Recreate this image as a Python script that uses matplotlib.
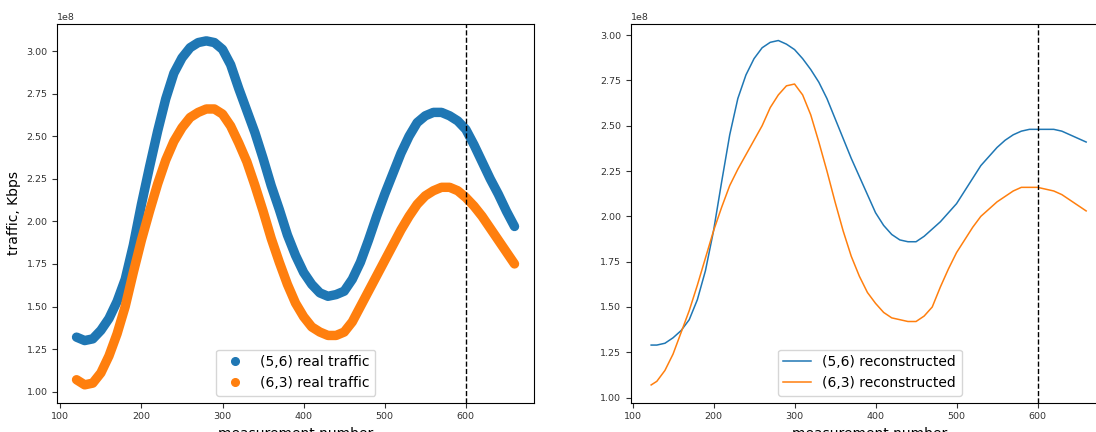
import numpy as np
import matplotlib
matplotlib.use("Agg")
import matplotlib.pyplot as plt
from matplotlib.lines import Line2D

# measurement numbers
x_real = np.arange(120, 670, 10)
x_rec = np.array([123] + list(range(130, 670, 10)))

# traffic, in units of 1e8 Kbps
blue_real = [1.32, 1.30, 1.31, 1.36, 1.43, 1.53, 1.66, 1.86, 2.10, 2.32,
             2.53, 2.72, 2.87, 2.96, 3.02, 3.05, 3.06, 3.05, 3.01, 2.92,
             2.78, 2.65, 2.52, 2.37, 2.21, 2.07, 1.92, 1.80, 1.70, 1.63,
             1.58, 1.56, 1.57, 1.59, 1.66, 1.76, 1.89, 2.03, 2.16, 2.28,
             2.40, 2.50, 2.58, 2.62, 2.64, 2.64, 2.62, 2.59, 2.54, 2.45,
             2.35, 2.25, 2.16, 2.06, 1.97]
orange_real = [1.07, 1.04, 1.05, 1.11, 1.21, 1.34, 1.50, 1.70, 1.89, 2.06,
               2.22, 2.36, 2.47, 2.55, 2.61, 2.64, 2.66, 2.66, 2.63, 2.56,
               2.46, 2.35, 2.21, 2.06, 1.90, 1.76, 1.63, 1.52, 1.44, 1.38,
               1.35, 1.33, 1.33, 1.35, 1.41, 1.50, 1.59, 1.68, 1.77, 1.86,
               1.95, 2.03, 2.10, 2.15, 2.18, 2.20, 2.20, 2.18, 2.14, 2.09,
               2.03, 1.96, 1.89, 1.82, 1.75]
blue_rec = [1.29, 1.29, 1.30, 1.33, 1.37, 1.43, 1.54, 1.70, 1.92, 2.19,
            2.45, 2.65, 2.78, 2.87, 2.93, 2.96, 2.97, 2.95, 2.92, 2.87,
            2.81, 2.74, 2.65, 2.54, 2.43, 2.32, 2.22, 2.12, 2.02, 1.95,
            1.90, 1.87, 1.86, 1.86, 1.89, 1.93, 1.97, 2.02, 2.07, 2.14,
            2.21, 2.28, 2.33, 2.38, 2.42, 2.45, 2.47, 2.48, 2.48, 2.48,
            2.48, 2.47, 2.45, 2.43, 2.41]
orange_rec = [1.07, 1.09, 1.15, 1.24, 1.36, 1.48, 1.62, 1.77, 1.92, 2.05,
              2.17, 2.26, 2.34, 2.42, 2.50, 2.60, 2.67, 2.72, 2.73, 2.67,
              2.56, 2.41, 2.25, 2.08, 1.92, 1.78, 1.67, 1.58, 1.52, 1.47,
              1.44, 1.43, 1.42, 1.42, 1.45, 1.50, 1.61, 1.71, 1.80, 1.87,
              1.94, 2.00, 2.04, 2.08, 2.11, 2.14, 2.16, 2.16, 2.16, 2.15,
              2.14, 2.12, 2.09, 2.06, 2.03]

labels_real = ["(5,6) real traffic", "(6,3) real traffic"]
labels_rec = ["(5,6) reconstructed", "(6,3) reconstructed"]
split_at = 600
scale = 1e8

c1, c2 = "#1f77b4", "#ff7f0e"

fig = plt.figure(figsize=(10.96, 4.32), dpi=100)
ax1 = fig.add_axes([0.0523, 0.0678, 0.4349, 0.8766])
ax2 = fig.add_axes([0.5755, 0.0678, 0.4362, 0.8766])

# left: measured traffic (dense scatter drawn as a thick band)
for y, c in zip([blue_real, orange_real], [c1, c2]):
    ax1.plot(x_real, np.array(y) * scale, color=c, lw=6.8,
             solid_capstyle="round", solid_joinstyle="round")
handles = [Line2D([], [], marker="o", ls="none", color=c, ms=5.5) for c in [c1, c2]]
ax1.legend(handles, labels_real, loc="lower center", fontsize=10)
ax1.axvline(split_at, color="k", ls="--", lw=1)
ax1.set_xlim(96.3, 684)
ax1.set_ylim(0.935 * scale, 3.159 * scale)
ax1.set_ylabel("traffic, Kbps", fontsize=10)
ax1.set_xlabel("measurement number", fontsize=10)

# right: reconstruction
ax2.plot(x_rec, np.array(blue_rec) * scale, color=c1, lw=1.1, label=labels_rec[0])
ax2.plot(x_rec, np.array(orange_rec) * scale, color=c2, lw=1.1, label=labels_rec[1])
ax2.legend(loc="lower center", fontsize=10)
ax2.axvline(split_at, color="k", ls="--", lw=1)
ax2.set_xlim(97.8, 688)
ax2.set_ylim(0.972 * scale, 3.061 * scale)
ax2.set_xlabel("measurement number", fontsize=10)

for ax in (ax1, ax2):
    ax.set_xticks([100, 200, 300, 400, 500, 600])
    ax.set_yticks(np.arange(1.0, 3.01, 0.25) * scale)
    ax.tick_params(labelsize=6.8, colors="#333333")
    ax.yaxis.get_offset_text().set_fontsize(6.8)
    ax.yaxis.get_offset_text().set_color("#333333")

fig.savefig("out.png", dpi=100)
